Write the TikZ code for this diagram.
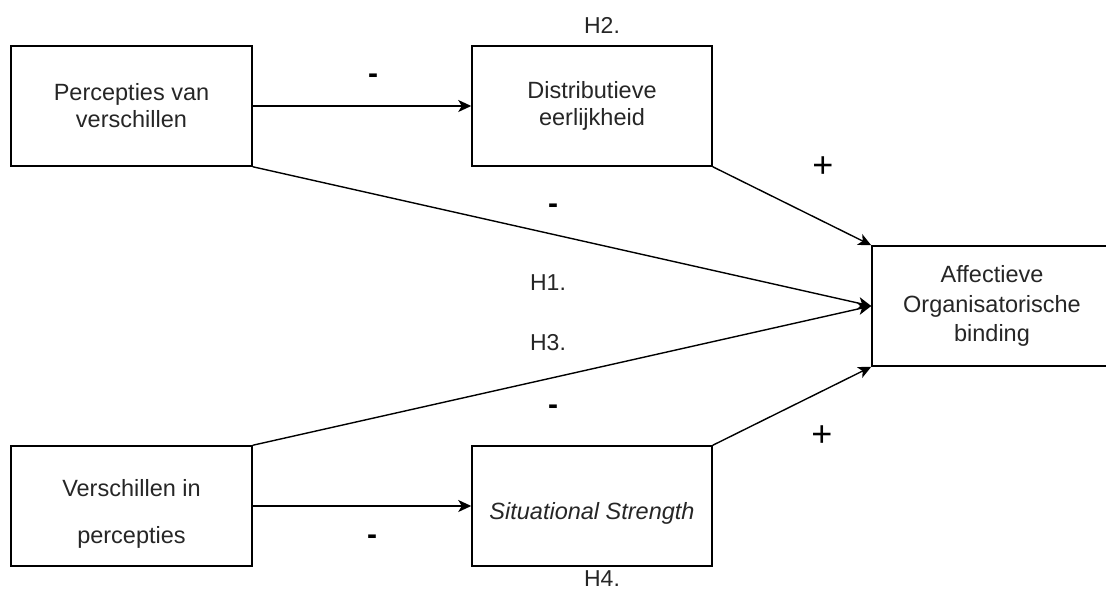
\documentclass[tikz,border=0pt]{standalone}
\usepackage{fontspec}
\setmainfont{Liberation Sans}
\usetikzlibrary{arrows.meta}
\begin{document}
\begin{tikzpicture}[x=1pt,y=-1pt,
  box/.style={draw, line width=1.5pt, minimum width=240pt, minimum height=120pt,
    inner sep=0pt, align=center, font=\fontsize{23.5}{27}\selectfont, text=black!85},
  boxtext/.style={align=center, font=\fontsize{23.5}{27}\selectfont, text=black!85},
  conn/.style={line width=1.4pt, -{Stealth[length=13pt,width=12pt,inset=3.5pt]}},
  hlabel/.style={font=\fontsize{23}{27}\selectfont, text=black!85, inner sep=0pt},
  minus/.style={font=\bfseries\fontsize{30}{30}\selectfont, inner sep=0pt},
  plus/.style={font=\fontsize{36}{36}\selectfont, inner sep=0pt}
]
\useasboundingbox[fill=white] (0,0) rectangle (1106,592);

% boxes
\node[box, minimum width=241pt] (pv) at (131.5,106) {Percepties van\\verschillen};
\node[box] (de) at (592,106) {Distributieve\\eerlijkheid};
\node[box, font=\fontsize{23.5}{29.5}\selectfont] (ao) at (992,306) {Affectieve\\Organisatorische\\binding};
\node[box, minimum width=241pt,
  label={[boxtext, yshift=-7.5pt]center:Verschillen in\\[20pt]percepties}] (vp) at (131.5,506) {};
\node[box,
  label={[boxtext, yshift=-7pt]center:\itshape Situational Strength}] (ss) at (592,506) {};

% connectors
\draw[conn] (pv.east) -- (de.west);
\draw[conn] (vp.east) -- (ss.west);
\draw[conn] (de.south east) -- (ao.north west);
\draw[conn] (pv.south east) -- (ao.west);
\draw[conn] (vp.north east) -- (ao.west);
\draw[conn] (ss.north east) -- (ao.south west);

% labels
\node[hlabel] (h2) at (602,25) {H2.};
\node[hlabel] (h1) at (548,283) {H1.};
\node[hlabel] (h3) at (548,343) {H3.};
\node[hlabel] (h4) at (602,579) {H4.};

\node[minus] (m1) at (373,79) {-};
\node[minus] (m2) at (553,209) {-};
\node[minus] (m3) at (553,410) {-};
\node[minus] (m4) at (372,540) {-};

\node[plus] (p1) at (823,167) {+};
\node[plus] (p2) at (822,436) {+};
\end{tikzpicture}
\end{document}
